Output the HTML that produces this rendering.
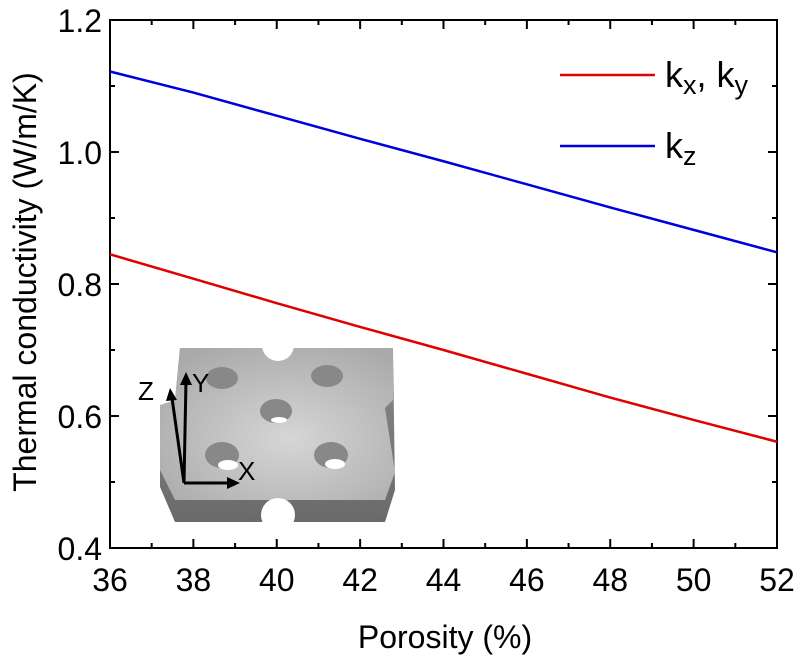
<!DOCTYPE html>
<html><head><meta charset="utf-8"><style>
body{margin:0;background:#fff;}
svg text{font-family:"Liberation Sans",sans-serif;fill:#000;}
</style></head><body>
<svg id="chart" width="802" height="661" viewBox="0 0 802 661" xmlns="http://www.w3.org/2000/svg">
<defs>
<radialGradient id="plate" cx="0.55" cy="0.6" r="0.7"><stop offset="0" stop-color="#d6d6d6"/><stop offset="1" stop-color="#a9a9a9"/></radialGradient>
<linearGradient id="side" x1="0" y1="0" x2="0" y2="1"><stop offset="0" stop-color="#8a8a8a"/><stop offset="1" stop-color="#6a6a6a"/></linearGradient>
</defs>
<g id="inset">
<polygon points="160,487 175,522 385,522 395,490 393,348 180,348 175,400 160,410" fill="url(#side)"/>
<polygon points="160,470 160,405 175,400 180,348 393,348 393,400 385,408 395,472 385,500 175,500" fill="url(#plate)"/>
<circle cx="278" cy="345" r="16" fill="#fff"/>
<circle cx="278" cy="515" r="17" fill="#fff"/>
<ellipse cx="222" cy="378" rx="16" ry="11" fill="#888"/>
<ellipse cx="327" cy="376" rx="16" ry="11" fill="#888"/>
<ellipse cx="276" cy="411" rx="16" ry="12" fill="#888"/>
<ellipse cx="222" cy="455" rx="17" ry="13" fill="#888"/>
<ellipse cx="331" cy="455" rx="17" ry="13" fill="#888"/>
<ellipse cx="228" cy="465" rx="10" ry="5" fill="#fff"/>
<ellipse cx="335" cy="464" rx="10" ry="5" fill="#fff"/>
<ellipse cx="279" cy="420" rx="8" ry="3" fill="#fff"/>
<g stroke="#000" stroke-width="3" fill="none">
<line x1="184" y1="483" x2="172" y2="398"/>
<line x1="184" y1="483" x2="186" y2="380"/>
<line x1="184" y1="483" x2="228" y2="483"/>
</g>
<polygon points="170,388 166,401 177,400" fill="#000"/>
<polygon points="186,372 180,385 192,385" fill="#000"/>
<polygon points="240,483 227,477 227,489" fill="#000"/>
<text x="138" y="400" font-size="26">Z</text>
<text x="192" y="392" font-size="26">Y</text>
<text x="238" y="480" font-size="26">X</text>
</g>
<g id="axes"></g>
<g id="series"></g>
<g id="legend">
<line x1="560" y1="75" x2="655" y2="75" stroke="#e00000" stroke-width="2.5"/>
<text x="665" y="87" font-size="36">k<tspan font-size="27" dy="7">x</tspan><tspan dy="-7">, k</tspan><tspan font-size="27" dy="7">y</tspan></text>
<line x1="560" y1="146" x2="655" y2="146" stroke="#0000dd" stroke-width="2.5"/>
<text x="665" y="158" font-size="36">k<tspan font-size="27" dy="7">z</tspan></text>
</g>
<text x="445" y="648" font-size="32" text-anchor="middle">Porosity (%)</text>
<text transform="translate(36,282) rotate(-90)" font-size="32" text-anchor="middle">Thermal conductivity (W/m/K)</text>
</svg>
<script>
const porosity = [36, 38, 40, 42, 44, 46, 48, 50, 52];
const kxy = [0.845, 0.808, 0.771, 0.735, 0.700, 0.664, 0.628, 0.594, 0.561];
const kz = [1.122, 1.090, 1.055, 1.020, 0.986, 0.951, 0.916, 0.882, 0.848];
const xTicks = [36, 38, 40, 42, 44, 46, 48, 50, 52];
const yTicks = [0.4, 0.6, 0.8, 1.0, 1.2];
const yTickLabels = ["0.4", "0.6", "0.8", "1.0", "1.2"];
const L=110,R=777,T=20,B=548;
const sx=v=>L+(v-36)/(52-36)*(R-L);
const sy=v=>B-(v-0.4)/(1.2-0.4)*(B-T);
const NS='http://www.w3.org/2000/svg';
function mk(tag,attrs,parent){const e=document.createElementNS(NS,tag);for(const k in attrs)e.setAttribute(k,attrs[k]);parent.appendChild(e);return e;}
const ax=document.getElementById('axes');
const frame=mk('rect',{x:L,y:T,width:R-L,height:B-T,fill:'none',stroke:'#000','stroke-width':2},ax);


for(let v=36;v<=52;v+=1){const x=sx(v);const len=(v%2===0)?9:5;
mk('line',{x1:x,y1:B,x2:x,y2:B-len,stroke:'#000','stroke-width':2},ax);
mk('line',{x1:x,y1:T,x2:x,y2:T+len,stroke:'#000','stroke-width':2},ax);}
for(let i=0;i<=8;i++){const v=0.4+i*0.1;const y=sy(v);const len=(i%2===0)?9:5;
mk('line',{x1:L,y1:y,x2:L+len,y2:y,stroke:'#000','stroke-width':2},ax);
mk('line',{x1:R,y1:y,x2:R-len,y2:y,stroke:'#000','stroke-width':2},ax);}
xTicks.forEach(v=>{const t=mk('text',{x:sx(v),y:B+43,'font-size':32,'text-anchor':'middle'},ax);t.textContent=v;

});
yTicks.forEach((v,i)=>{const t=mk('text',{x:L-8,y:sy(v)+12,'font-size':32,'text-anchor':'end'},ax);t.textContent=yTickLabels[i];

});
const sg=document.getElementById('series');
function line(vals,color,name){const p=mk('polyline',{points:porosity.map((x,i)=>sx(x)+','+sy(vals[i])).join(' '),fill:'none',stroke:color,'stroke-width':2.5},sg);

}
line(kxy,'#e00000','series-kxy');
line(kz,'#0000dd','series-kz');
</script>
</body></html>
